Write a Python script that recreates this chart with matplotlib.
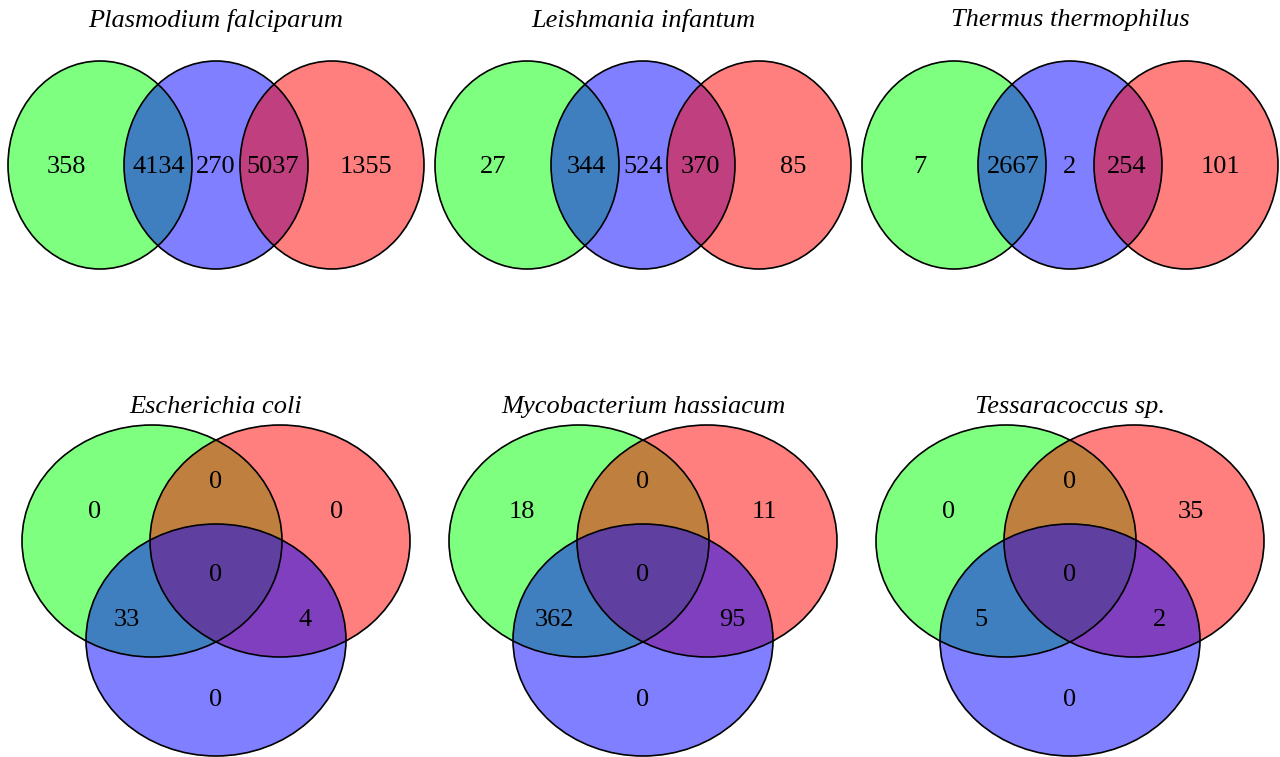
import matplotlib.pyplot as plt
import matplotlib.patches as patches

plt.rcParams['font.family'] = ['Liberation Serif', 'DejaVu Serif']

# linear three-set panels (green, blue, red from left to right)
TOP_TITLES = ["Plasmodium falciparum", "Leishmania infantum", "Thermus thermophilus"]
# counts: green only, green&blue, blue only, blue&red, red only
TOP_COUNTS = [
    [358, 4134, 270, 5037, 1355],
    [27, 344, 524, 370, 85],
    [7, 2667, 2, 254, 101],
]

# classic three-set panels (green top-left, red top-right, blue bottom)
BOTTOM_TITLES = ["Escherichia coli", "Mycobacterium hassiacum", "Tessaracoccus sp."]
# counts: green only, green&red, red only, all three, green&blue, red&blue, blue only
BOTTOM_COUNTS = [
    [0, 0, 0, 0, 33, 4, 0],
    [18, 0, 11, 0, 362, 95, 0],
    [0, 0, 35, 0, 5, 2, 0],
]

GREEN = (0, 1, 0, 0.5)
BLUE = (0, 0, 1, 0.5)
RED = (1, 0, 0, 0.5)

COL_X = [216, 643, 1070]
COL_STEP = 116
FONT = 19


def draw_sets(ax, sets):
    # fills first, outlines on top so every edge stays visible
    for (x, y, w, h, color) in sets:
        ax.add_patch(patches.Ellipse((x, y), w, h, facecolor=color, edgecolor='none'))
    for (x, y, w, h, color) in sets:
        ax.add_patch(patches.Ellipse((x, y), w, h, fill=False, edgecolor='black', linewidth=1.2))


def draw_top(ax, cx, title, counts):
    cy = 165
    w, h = 184, 208
    draw_sets(ax, [
        (cx - COL_STEP, cy, w, h, GREEN),
        (cx, cy, w, h, BLUE),
        (cx + COL_STEP, cy, w, h, RED),
    ])
    offsets = [-150, -57, 0, 57, 150]
    for dx, n in zip(offsets, counts):
        ax.text(cx + dx, cy + 2, str(n), ha='center', va='center', fontsize=FONT)
    ax.text(cx, 20, title, ha='center', va='center', fontsize=FONT, style='italic')


def draw_bottom(ax, cx, title, counts):
    cy = 541
    w, h = 260, 232
    draw_sets(ax, [
        (cx - 64, cy, w, h, GREEN),
        (cx + 64, cy, w, h, RED),
        (cx, cy + 99, w, h, BLUE),
    ])
    offsets = [(-121, -29), (0, -59), (121, -29), (0, 34), (-89, 79), (89, 79), (0, 159)]
    for (dx, dy), n in zip(offsets, counts):
        ax.text(cx + dx, cy + dy, str(n), ha='center', va='center', fontsize=FONT)
    ax.text(cx, 407, title, ha='center', va='center', fontsize=FONT, style='italic')


fig = plt.figure(figsize=(12.8, 7.57), dpi=100)
ax = fig.add_axes([0, 0, 1, 1])
ax.set_xlim(0, 1280)
ax.set_ylim(757, 0)
ax.axis('off')

for cx, title, counts in zip(COL_X, TOP_TITLES, TOP_COUNTS):
    draw_top(ax, cx, title, counts)
for cx, title, counts in zip(COL_X, BOTTOM_TITLES, BOTTOM_COUNTS):
    draw_bottom(ax, cx, title, counts)

fig.savefig('out.png', dpi=100, facecolor='white')
